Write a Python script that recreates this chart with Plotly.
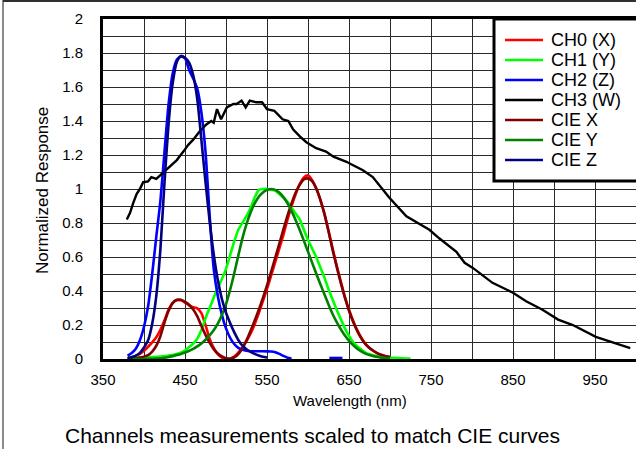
import plotly.graph_objects as go

# ---------------- data ----------------
cie_wl = [380, 385, 390, 395, 400, 405, 410, 415, 420, 425, 430, 435, 440, 445, 450, 455, 460, 465,
          470, 475, 480, 485, 490, 495, 500, 505, 510, 515, 520, 525, 530, 535, 540, 545, 550, 555,
          560, 565, 570, 575, 580, 585, 590, 595, 600, 605, 610, 615, 620, 625, 630, 635, 640, 645,
          650, 655, 660, 665, 670, 675, 680, 685, 690, 695, 700]
cie_x = [0.001, 0.002, 0.004, 0.008, 0.014, 0.023, 0.044, 0.078, 0.134, 0.215, 0.284, 0.329, 0.348,
         0.348, 0.336, 0.319, 0.291, 0.251, 0.195, 0.142, 0.096, 0.058, 0.032, 0.015, 0.005, 0.002,
         0.009, 0.029, 0.063, 0.110, 0.166, 0.226, 0.290, 0.360, 0.433, 0.512, 0.595, 0.678, 0.762,
         0.843, 0.916, 0.979, 1.026, 1.057, 1.062, 1.046, 1.003, 0.938, 0.854, 0.751, 0.642, 0.542,
         0.448, 0.361, 0.284, 0.219, 0.165, 0.121, 0.087, 0.064, 0.047, 0.033, 0.023, 0.016, 0.011]
cie_y = [0.000, 0.000, 0.000, 0.000, 0.000, 0.001, 0.001, 0.002, 0.004, 0.007, 0.012, 0.017, 0.023,
         0.030, 0.038, 0.048, 0.060, 0.074, 0.091, 0.113, 0.139, 0.169, 0.208, 0.259, 0.323, 0.407,
         0.503, 0.608, 0.710, 0.793, 0.862, 0.915, 0.954, 0.980, 0.995, 1.000, 0.995, 0.979, 0.952,
         0.915, 0.870, 0.816, 0.757, 0.695, 0.631, 0.567, 0.503, 0.441, 0.381, 0.321, 0.265, 0.217,
         0.175, 0.138, 0.107, 0.082, 0.061, 0.045, 0.032, 0.023, 0.017, 0.012, 0.008, 0.006, 0.004]
ciez_wl = [380, 385, 390, 395, 400, 405, 410, 415, 420, 425, 430, 435, 440, 445, 450, 455, 460, 465,
           470, 475, 480, 485, 490, 495, 500, 505, 510, 515, 520, 525, 530, 535, 540, 545, 550]
cie_z = [0.006, 0.011, 0.020, 0.036, 0.068, 0.110, 0.207, 0.371, 0.646, 1.039, 1.386, 1.623, 1.747,
         1.783, 1.772, 1.744, 1.669, 1.528, 1.288, 1.042, 0.813, 0.616, 0.465, 0.353, 0.272, 0.212,
         0.158, 0.112, 0.078, 0.057, 0.042, 0.030, 0.020, 0.013, 0.009]

ch0_wl = [385, 390, 395, 400, 405, 410, 415, 420, 425, 430, 435, 440, 445, 450, 455, 460, 465, 470,
          475, 480, 485, 490, 495, 500, 505, 510, 515, 520, 525, 530, 535, 540, 545, 550, 555, 560,
          565, 570, 575, 580, 585, 590, 595, 600, 605, 610, 615, 620, 625, 630, 635, 640, 645, 650,
          655, 660, 665, 670, 675, 680, 685, 690, 695, 700]
ch0 = [0.010, 0.018, 0.030, 0.048, 0.072, 0.098, 0.128, 0.172, 0.228, 0.290, 0.330, 0.345, 0.345,
       0.332, 0.316, 0.305, 0.298, 0.270, 0.200, 0.120, 0.065, 0.028, 0.008, 0.000, 0.002, 0.014,
       0.038, 0.068, 0.105, 0.150, 0.205, 0.270, 0.340, 0.412, 0.490, 0.570, 0.650, 0.730, 0.820,
       0.900, 0.970, 1.030, 1.068, 1.080, 1.052, 1.005, 0.938, 0.856, 0.756, 0.650, 0.550, 0.455,
       0.365, 0.290, 0.225, 0.170, 0.125, 0.090, 0.065, 0.047, 0.032, 0.022, 0.015, 0.011]

ch1_wl = [380, 385, 390, 395, 400, 410, 420, 430, 440, 450, 455, 460, 465, 470, 475, 480, 485, 490,
          495, 500, 505, 510, 515, 520, 525, 530, 535, 540, 545, 550, 555, 560, 565, 570, 575, 580,
          585, 590, 595, 600, 605, 610, 615, 620, 625, 630, 635, 640, 645, 650, 655, 660, 665, 670,
          675, 680, 690, 700, 710, 720, 725]
ch1 = [0.012, 0.012, 0.010, 0.010, 0.010, 0.012, 0.015, 0.020, 0.030, 0.050, 0.070, 0.090, 0.120,
       0.170, 0.240, 0.300, 0.360, 0.420, 0.470, 0.530, 0.610, 0.690, 0.760, 0.800, 0.840, 0.890,
       0.950, 0.995, 1.000, 1.000, 0.995, 0.990, 0.970, 0.950, 0.925, 0.890, 0.855, 0.820, 0.760,
       0.700, 0.650, 0.600, 0.540, 0.480, 0.410, 0.350, 0.290, 0.235, 0.180, 0.135, 0.100, 0.075,
       0.055, 0.038, 0.028, 0.020, 0.012, 0.008, 0.005, 0.003, 0.002]

ch2_wl = [380, 385, 390, 395, 400, 405, 410, 415, 420, 425, 430, 435, 440, 445, 450, 455, 460, 465,
          470, 475, 480, 485, 490, 495, 500, 505, 510, 515, 520, 525, 530, 540, 550, 555, 560, 565,
          570, 575, 580, 600, 626, 642]
ch2 = [0.020, 0.035, 0.060, 0.110, 0.190, 0.310, 0.500, 0.720, 0.930, 1.220, 1.500, 1.680, 1.760,
       1.780, 1.770, 1.700, 1.650, 1.590, 1.450, 1.220, 0.850, 0.530, 0.370, 0.260, 0.180, 0.125,
       0.088, 0.065, 0.054, 0.048, 0.046, 0.046, 0.045, 0.044, 0.040, 0.030, 0.018, 0.008, 0.002,
       None, 0.006, 0.006]

ch3_wl = [379, 383, 387, 391, 395, 399, 405, 409, 415, 423, 431, 440, 448, 454, 460, 468, 476, 482,
          485, 489, 494, 501, 509, 513, 519, 524, 529, 537, 544, 550, 559, 569, 576, 582, 590, 598,
          610, 622, 631, 647, 655, 667, 679, 687, 699, 720, 748, 760, 781, 791, 801, 825, 850, 866,
          886, 905, 923, 951, 971, 993]
ch3 = [0.82, 0.86, 0.92, 0.97, 1.00, 1.04, 1.045, 1.07, 1.06, 1.095, 1.13, 1.17, 1.22, 1.26, 1.29,
       1.34, 1.38, 1.40, 1.39, 1.47, 1.41, 1.48, 1.50, 1.50, 1.52, 1.48, 1.52, 1.51, 1.51, 1.47,
       1.46, 1.41, 1.40, 1.35, 1.31, 1.275, 1.24, 1.22, 1.19, 1.16, 1.14, 1.11, 1.07, 1.02, 0.95,
       0.84, 0.76, 0.71, 0.63, 0.566, 0.536, 0.448, 0.39, 0.34, 0.29, 0.232, 0.20, 0.13, 0.10, 0.064]

names = ["CH0 (X)", "CH1 (Y)", "CH2 (Z)", "CH3 (W)", "CIE X", "CIE Y", "CIE Z"]
colors = ["#ff0000", "#00ff00", "#0000ff", "#000000", "#800000", "#008000", "#000080"]
series = [(ch0_wl, ch0), (ch1_wl, ch1), (ch2_wl, ch2), (ch3_wl, ch3),
          (cie_wl, cie_x), (cie_wl, cie_y), (ciez_wl, cie_z)]

x_ticks = [350, 450, 550, 650, 750, 850, 950]
y_ticks = [0, 0.2, 0.4, 0.6, 0.8, 1, 1.2, 1.4, 1.6, 1.8, 2]

FONT = "Liberation Sans, Arial, sans-serif"

# ---------------- geometry (pixels) ----------------
W, H = 636, 449
L, R, T, B = 103, 0, 19, 90
PW, PH = W - L - R, H - T - B


def px(xp):
    return (xp - L) / PW


def py(yp):
    return (H - B - yp) / PH


fig = go.Figure()
for (wl, vals), name, col in zip(series, names, colors):
    fig.add_trace(go.Scatter(
        x=wl, y=vals, name=name, mode="lines",
        line=dict(color=col, width=2.6 if name != "CH3 (W)" else 2.4,
                  shape="spline" if name != "CH3 (W)" else "linear", smoothing=0.6),
        connectgaps=False, showlegend=False))

grid = "#2a2a2a"
fig.update_layout(
    width=W, height=H,
    margin=dict(l=L, r=R, t=T, b=B, pad=0),
    paper_bgcolor="white", plot_bgcolor="white",
    font=dict(family=FONT, size=15, color="black"),
    xaxis=dict(range=[350, 1000], tickmode="array", tickvals=x_ticks,
               ticktext=[str(v) for v in x_ticks],
               showgrid=True, gridcolor=grid, gridwidth=1,
               minor=dict(dtick=50, tick0=350, showgrid=True, gridcolor=grid, gridwidth=1),
               showline=True, linewidth=3, linecolor="black", mirror=True,
               ticks="outside", ticklen=5, tickcolor="rgba(0,0,0,0)",
               zeroline=False, tickfont=dict(size=15)),
    yaxis=dict(range=[0, 2], tickmode="array", tickvals=y_ticks,
               ticktext=["0", "0.2", "0.4", "0.6", "0.8", "1", "1.2", "1.4", "1.6", "1.8", "2"],
               showgrid=True, gridcolor=grid, gridwidth=1,
               minor=dict(dtick=0.1, tick0=0, showgrid=True, gridcolor=grid, gridwidth=1),
               showline=True, linewidth=3, linecolor="black",
               ticks="outside", ticklen=14, tickcolor="rgba(0,0,0,0)",
               zeroline=False, tickfont=dict(size=15)),
    showlegend=False,
)

shapes = []
annotations = []
# outer frame
shapes.append(dict(type="line", xref="paper", yref="paper", x0=px(3), x1=px(3), y0=py(0), y1=py(H),
                   line=dict(color="#8a8a8a", width=2)))
shapes.append(dict(type="line", xref="paper", yref="paper", x0=px(3), x1=px(W + 5), y0=py(1), y1=py(1),
                   line=dict(color="#303030", width=2)))
# legend box
shapes.append(dict(type="rect", xref="paper", yref="paper", x0=px(494), x1=px(W + 10),
                   y0=py(181), y1=py(19), fillcolor="white", line=dict(color="black", width=3)))
for i, (name, col) in enumerate(zip(names, colors)):
    yc = 40 + 20 * i
    shapes.append(dict(type="line", xref="paper", yref="paper", x0=px(505), x1=px(543),
                       y0=py(yc), y1=py(yc), line=dict(color=col, width=2.6)))
    annotations.append(dict(text=name, xref="paper", yref="paper", x=px(549), y=py(yc),
                            xanchor="left", yanchor="middle", showarrow=False,
                            font=dict(size=18, family=FONT, color="black")))

annotations.append(dict(text="Normalized Response", xref="paper", yref="paper", x=px(42), y=py(191),
                        textangle=-90, xanchor="center", yanchor="middle", showarrow=False,
                        font=dict(size=17, family=FONT)))
annotations.append(dict(text="Wavelength (nm)", xref="paper", yref="paper", x=px(350), y=py(400),
                        xanchor="center", yanchor="middle", showarrow=False,
                        font=dict(size=15, family=FONT)))
annotations.append(dict(text="Channels measurements scaled to match CIE curves", xref="paper",
                        yref="paper", x=px(312), y=py(435), xanchor="center", yanchor="middle",
                        showarrow=False, font=dict(size=21, family=FONT)))

fig.update_layout(shapes=shapes, annotations=annotations)
fig.write_html("out.html", config={"displayModeBar": False},
               post_script="document.body.style.margin='0px';document.body.style.padding='0px';")
